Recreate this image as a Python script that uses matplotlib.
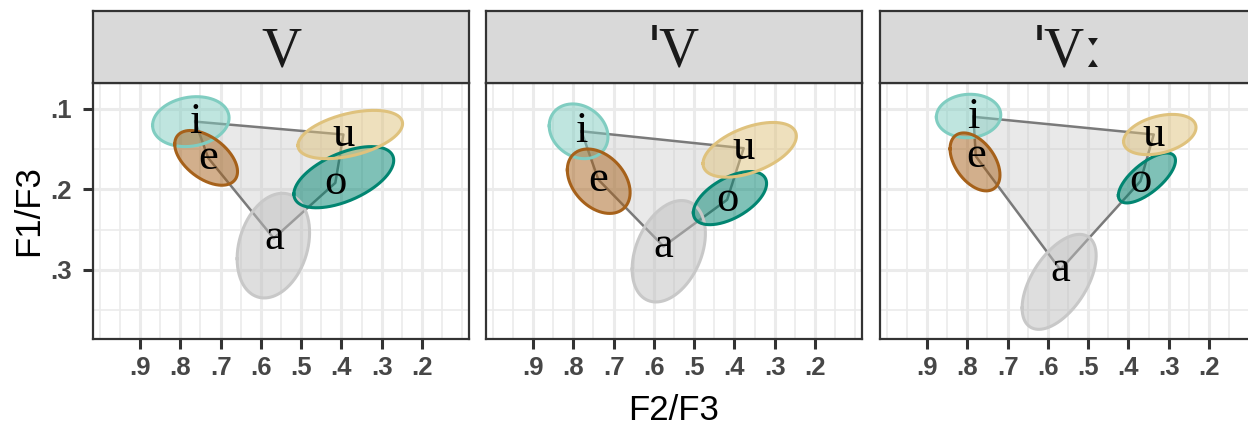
import numpy as np
import matplotlib.pyplot as plt
from matplotlib.ticker import FixedLocator
from matplotlib.offsetbox import TextArea, HPacker, AnchoredOffsetbox

# facets and vowels
facets = ['V', 'ˈV', 'ˈVː']
vowels = ['i', 'e', 'a', 'o', 'u']
vowel_colors = ['#80CDC1', '#A6611A', '#BEBEBE', '#018571', '#DFC27D']
edge_colors = ['#80CDC1', '#A6611A', '#C8C8C8', '#018571', '#DFC27D']

# vowel means (F2/F3, F1/F3) per facet, order i e a o u
mean_x = [[0.763, 0.731, 0.568, 0.415, 0.395],
          [0.780, 0.738, 0.576, 0.418, 0.377],
          [0.785, 0.779, 0.569, 0.370, 0.337]]
mean_y = [[0.116, 0.161, 0.261, 0.192, 0.132],
          [0.128, 0.188, 0.271, 0.213, 0.149],
          [0.110, 0.159, 0.300, 0.190, 0.132]]

# ellipse parameters: centre, half-extent in x and y, correlation
ell_cx = [[0.774, 0.736, 0.569, 0.394, 0.378],
          [0.787, 0.737, 0.563, 0.411, 0.362],
          [0.797, 0.781, 0.572, 0.354, 0.322]]
ell_cy = [[0.116, 0.161, 0.270, 0.185, 0.132],
          [0.128, 0.190, 0.277, 0.211, 0.151],
          [0.109, 0.166, 0.315, 0.186, 0.132]]
ell_hx = [[0.095, 0.078, 0.090, 0.124, 0.130],
          [0.073, 0.078, 0.091, 0.091, 0.116],
          [0.080, 0.062, 0.092, 0.071, 0.090]]
ell_hy = [[0.031, 0.034, 0.065, 0.038, 0.030],
          [0.034, 0.040, 0.063, 0.033, 0.034],
          [0.027, 0.036, 0.059, 0.031, 0.025]]
ell_rho = [[0.15, -0.5, 0.25, 0.55, 0.45],
           [-0.2, -0.35, 0.35, 0.55, 0.5],
           [0.05, -0.45, 0.55, 0.7, 0.35]]

x_ticks = [0.9, 0.8, 0.7, 0.6, 0.5, 0.4, 0.3, 0.2]
x_labels = ['.9', '.8', '.7', '.6', '.5', '.4', '.3', '.2']
y_ticks = [0.1, 0.2, 0.3]
y_labels = ['.1', '.2', '.3']
x_minor = [1.0, 0.95, 0.85, 0.75, 0.65, 0.55, 0.45, 0.35, 0.25, 0.15, 0.1]
y_minor = [0.15, 0.25, 0.35]

# polygon order around the vowel space
poly_order = [0, 4, 3, 2, 1]

W, H = 1248, 425
fig = plt.figure(figsize=(W / 100, H / 100), dpi=100)
lefts = [93, 486, 880]
pw = 376
ptop, pbot = 83, 339
stop = 11

tick_font = dict(fontsize=18.5, fontweight='bold', family='Liberation Sans', color='#474747')
t = np.linspace(0, 2 * np.pi, 300)

for k in range(3):
    ax = fig.add_axes([lefts[k] / W, (H - pbot) / H, pw / W, (pbot - ptop) / H])
    ax.set_xlim(1.017, 0.083)
    ax.set_ylim(0.386, 0.068)
    ax.xaxis.set_major_locator(FixedLocator(x_ticks))
    ax.yaxis.set_major_locator(FixedLocator(y_ticks))
    ax.xaxis.set_minor_locator(FixedLocator(x_minor))
    ax.yaxis.set_minor_locator(FixedLocator(y_minor))
    ax.grid(True, which='major', color='#EBEBEB', lw=2.2, zorder=0)
    ax.grid(True, which='minor', color='#EBEBEB', lw=1.2, zorder=0)
    ax.set_axisbelow(True)
    ax.tick_params(which='major', length=7, width=2.2, color='#333333')
    ax.tick_params(axis='x', which='major', pad=5)
    ax.tick_params(axis='y', which='major', pad=8.5)
    ax.tick_params(which='minor', length=0)
    ax.set_xticklabels(x_labels, **tick_font)
    if k == 0:
        ax.set_yticklabels(y_labels, **tick_font)
    else:
        ax.set_yticklabels([])
        ax.tick_params(axis='y', which='major', length=0)
    for sp in ax.spines.values():
        sp.set_color('#333333')
        sp.set_linewidth(1.6)

    px = [mean_x[k][j] for j in poly_order]
    py = [mean_y[k][j] for j in poly_order]
    ax.fill(px, py, facecolor='#BEBEBE', alpha=0.33, edgecolor='none', zorder=1)
    ax.plot(px + [px[0]], py + [py[0]], color='#7A7A7A', lw=1.8, zorder=2)

    for j in range(5):
        r = ell_rho[k][j]
        ex = ell_cx[k][j] + ell_hx[k][j] * np.cos(t)
        ey = ell_cy[k][j] + ell_hy[k][j] * (r * np.cos(t) + np.sqrt(1 - r * r) * np.sin(t))
        ax.fill(ex, ey, facecolor=vowel_colors[j], alpha=0.5, edgecolor='none', zorder=3)
        ax.plot(ex, ey, color=edge_colors[j], lw=2.2, zorder=4)

    for j in range(5):
        ax.text(mean_x[k][j], mean_y[k][j], vowels[j], fontsize=32,
                family=['Liberation Serif', 'DejaVu Serif'],
                ha='center', va='center', color='black', zorder=5)

    sax = fig.add_axes([lefts[k] / W, (H - ptop) / H, pw / W, (ptop - stop) / H])
    sax.set_facecolor('#D9D9D9')
    sax.set_xticks([])
    sax.set_yticks([])
    for sp in sax.spines.values():
        sp.set_color('#333333')
        sp.set_linewidth(1.6)
    # IPA marks from Noto Sans, letters from Liberation Serif
    parts = []
    for ch in facets[k]:
        fam = ['Liberation Serif'] if ch.isascii() else ['Noto Sans', 'DejaVu Serif']
        parts.append(TextArea(ch, textprops=dict(fontsize=40, family=fam, color='#1A1A1A')))
    box = HPacker(children=parts, align='baseline', pad=0, sep=0)
    anch = AnchoredOffsetbox(loc='center', child=box, pad=0, borderpad=0, frameon=False,
                             bbox_to_anchor=(0.5, 0.43), bbox_transform=sax.transAxes)
    sax.add_artist(anch)

fig.text((486 + pw / 2) / W, 1 - 410 / H, 'F2/F3', fontsize=25,
         family='Liberation Sans', ha='center', va='center')
fig.text(29 / W, 1 - 211 / H, 'F1/F3', fontsize=25, rotation=90,
         family='Liberation Sans', ha='center', va='center')

fig.savefig('out.png', dpi=100)
